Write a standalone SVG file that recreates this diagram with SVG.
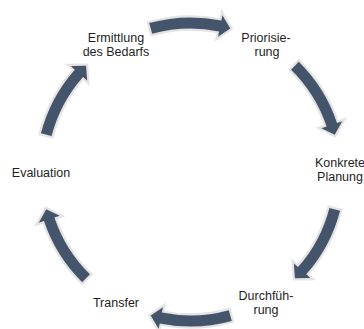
<svg xmlns="http://www.w3.org/2000/svg" width="364" height="329" viewBox="0 0 364 329">
<style>
.lbl{font-family:"Liberation Sans",Arial,sans-serif;font-size:12.5px;fill:#1e1e1e;text-anchor:middle}
.arr{fill:#44546a;stroke:#e4e4e4;stroke-width:4.5;stroke-linejoin:miter;paint-order:stroke}
</style>
<defs>
<path id="ca" d="M -41.29,-148.88 A 154.5,154.5 0 0 1 30.80,-151.40 L 31.90,-156.79 L 39.82,-143.58 L 27.51,-135.23 L 28.61,-140.62 A 143.5,143.5 0 0 0 -38.35,-138.28 Z"/>
</defs>
<rect width="364" height="329" fill="#ffffff"/>
<g id="connectors" transform="translate(190.5,172)">
<use href="#ca" class="arr"/>
<use href="#ca" class="arr" transform="rotate(60)"/>
<use href="#ca" class="arr" transform="rotate(120)"/>
<use href="#ca" class="arr" transform="rotate(180)"/>
<use href="#ca" class="arr" transform="rotate(240)"/>
<use href="#ca" class="arr" transform="rotate(300)"/>
</g>
<g id="n1"><text class="lbl" x="116" y="42">Ermittlung</text><text class="lbl" x="116" y="56">des Bedarfs</text></g>
<g id="n2"><text class="lbl" x="266" y="42">Priorisie-</text><text class="lbl" x="267" y="56">rung</text></g>
<g id="n3"><text class="lbl" x="340" y="167">Konkrete</text><text class="lbl" x="340" y="181">Planung</text></g>
<g id="n4"><text class="lbl" x="266" y="300">Durchfüh-</text><text class="lbl" x="266" y="314">rung</text></g>
<g id="n5"><text class="lbl" x="116" y="307">Transfer</text></g>
<g id="n6"><text class="lbl" x="41" y="177">Evaluation</text></g>
</svg>
